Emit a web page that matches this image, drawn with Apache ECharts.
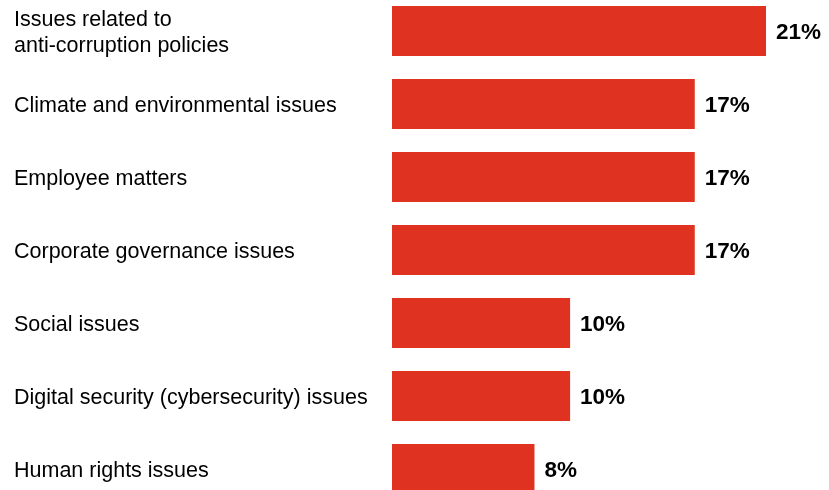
<!DOCTYPE html>
<html>
<head>
<meta charset="utf-8">
<script src="https://cdn.jsdelivr.net/npm/echarts@6/dist/echarts.min.js"></script>
<style>
  html, body { margin: 0; padding: 0; background: #ffffff; }
  #chart { width: 829px; height: 490px; }
</style>
</head>
<body>
<div id="chart"></div>
<script>
// Topics and share of respondents (%)
const categories = [
  'Issues related to\nanti-corruption policies',
  'Climate and environmental issues',
  'Employee matters',
  'Corporate governance issues',
  'Social issues',
  'Digital security (cybersecurity) issues',
  'Human rights issues'
];
const shares = [21, 17, 17, 17, 10, 10, 8];

const chart = echarts.init(document.getElementById('chart'), null, { renderer: 'canvas' });

chart.setOption({
  animation: false,
  backgroundColor: '#ffffff',
  // plot area runs slightly past the bottom edge, so the last bar is cut
  grid: {
    left: 392, top: -5.5, bottom: -15.5, width: 374,
    containLabel: false,
    outerBoundsMode: 'none'
  },
  xAxis: {
    type: 'value',
    min: 0,
    max: 21,
    show: false
  },
  yAxis: {
    type: 'category',
    data: categories,
    inverse: true,
    axisLine: { show: false },
    axisTick: { show: false },
    splitLine: { show: false },
    axisLabel: {
      align: 'left',
      margin: 378,
      // each line is a rich token, padded on top to sit a little lower
      formatter: v => v.split('\n').map(line => '{t|' + line + '}').join('\n'),
      rich: {
        t: {
          color: '#000000',
          fontFamily: '"Liberation Sans", Arial, sans-serif',
          fontSize: 21.5,
          lineHeight: 26,
          padding: [4, 0, 0, 0]
        }
      }
    }
  },
  series: [{
    type: 'bar',
    data: shares,
    barWidth: 50,
    itemStyle: { color: '#E03220' },
    label: {
      show: true,
      position: 'right',
      distance: 10,
      offset: [0, 2],
      formatter: '{c}%',
      color: '#000000',
      fontFamily: '"Liberation Sans", Arial, sans-serif',
      fontWeight: 'bold',
      fontSize: 22.5
    }
  }]
});
</script>
</body>
</html>
